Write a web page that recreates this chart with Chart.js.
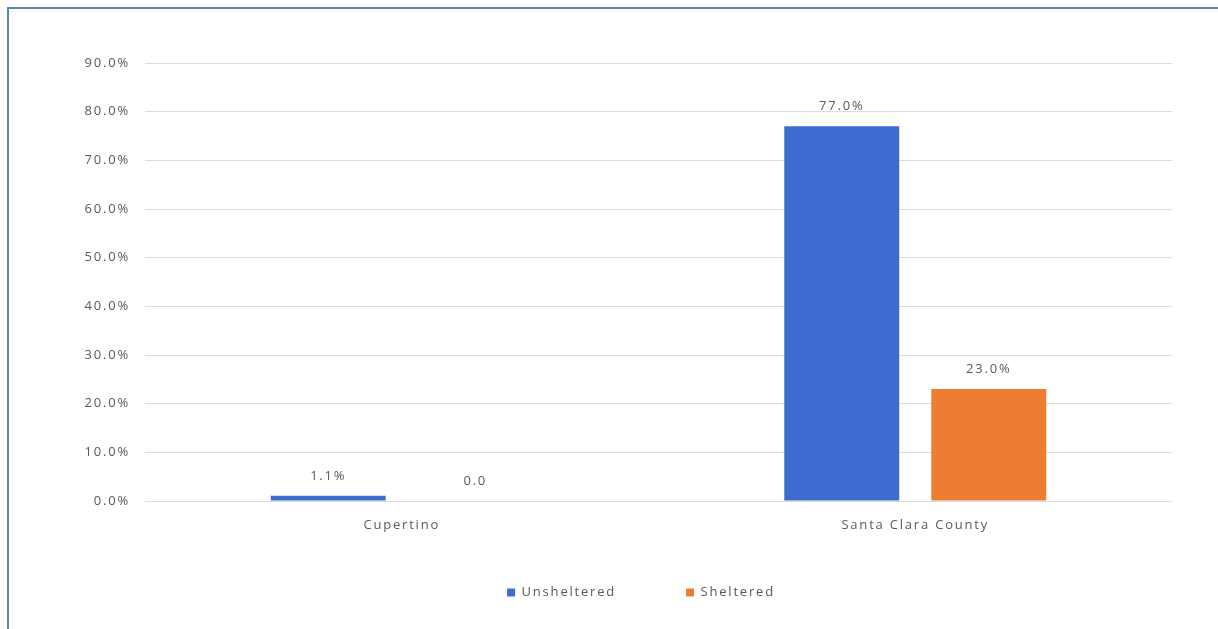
<!DOCTYPE html>
<html>
<head>
<meta charset="utf-8">
<script src="https://cdn.jsdelivr.net/npm/chart.js@4.4.1/dist/chart.umd.min.js"></script>
<style>
  html, body { margin: 0; padding: 0; background: #fff; }
  #frame {
    position: absolute; left: 7px; top: 7px; width: 1211px; height: 622px;
    border-top: 2px solid #5b86a6; border-left: 2px solid #5b86a6;
    box-sizing: border-box;
  }
  #wrap { position: absolute; left: 0; top: 0; width: 1218px; height: 629px; }
</style>
</head>
<body>
<div id="frame"></div>
<div id="wrap"><canvas id="myChart"></canvas></div>
<script>
// Chart data
var categories = ["Cupertino", "Santa Clara County"];
var unsheltered = [1.1, 77.0];
var sheltered = [0.0, 23.0];
var unshelteredLabels = ["1.1%", "77.0%"];
var shelteredLabels = ["0.0", "23.0%"];

var textColor = "#595959";
var fontFamily = "'Open Sans', 'DejaVu Sans', sans-serif";
var fontSize = 13;
var spacing = "1.8px";

// wide letter spacing like the original, canvas state resets on resize so set it each pass
var spaced = {
  id: "spaced",
  beforeLayout(chart) { chart.ctx.letterSpacing = spacing; },
  beforeDraw(chart) { chart.ctx.letterSpacing = spacing; },
  // legend sits closer to the axis and a bit right of centre in the original
  afterLayout(chart) {
    var lg = chart.legend;
    lg.top -= 20; lg.bottom -= 20;
    lg.left += 55; lg.right += 55;
  }
};

// draw value labels above each bar
var valueLabels = {
  id: "valueLabels",
  afterDatasetsDraw(chart) {
    var ctx = chart.ctx;
    ctx.save();
    ctx.fillStyle = textColor;
    ctx.font = fontSize + "px " + fontFamily;
    ctx.textAlign = "center";
    ctx.textBaseline = "bottom";
    chart.data.datasets.forEach((ds, i) => {
      chart.getDatasetMeta(i).data.forEach((bar, j) => {
        ctx.fillText(ds.valueText[j], bar.x, bar.y - 13);
      });
    });
    ctx.restore();
  }
};

var ctx = document.getElementById("myChart").getContext("2d");
var myChart = new Chart(ctx, {
  type: "bar",
  data: {
    labels: categories,
    datasets: [
      { label: "Unsheltered", data: unsheltered, valueText: unshelteredLabels,
        backgroundColor: "#3d6bd0", borderColor: "#3d6bd0" },
      { label: "Sheltered", data: sheltered, valueText: shelteredLabels,
        backgroundColor: "#ee7d31", borderColor: "#ee7d31" }
    ]
  },
  options: {
    responsive: true,
    maintainAspectRatio: false,
    animation: false,
    layout: { padding: { left: 0, right: 46, top: 63, bottom: 0 } },
    datasets: { bar: { categoryPercentage: 0.5725, barPercentage: 0.782 } },
    scales: {
      x: {
        grid: { display: false },
        border: { display: false },
        ticks: { color: textColor, font: { family: fontFamily, size: fontSize }, padding: 8 },
        afterFit(s) { s.height = 35; }
      },
      y: {
        min: 0, max: 90,
        grid: { color: "#dcdcdc", drawTicks: false },
        border: { display: false },
        ticks: {
          stepSize: 10, padding: 15, color: textColor,
          font: { family: fontFamily, size: fontSize },
          callback: (v) => v.toFixed(1) + "%"
        },
        afterFit(s) { s.width = 145; }
      }
    },
    plugins: {
      legend: {
        position: "bottom",
        labels: {
          boxWidth: 8, boxHeight: 8, padding: 70,
          color: textColor, font: { family: fontFamily, size: fontSize }
        }
      },
      tooltip: { enabled: false }
    }
  },
  plugins: [spaced, valueLabels]
});
</script>
</body>
</html>
